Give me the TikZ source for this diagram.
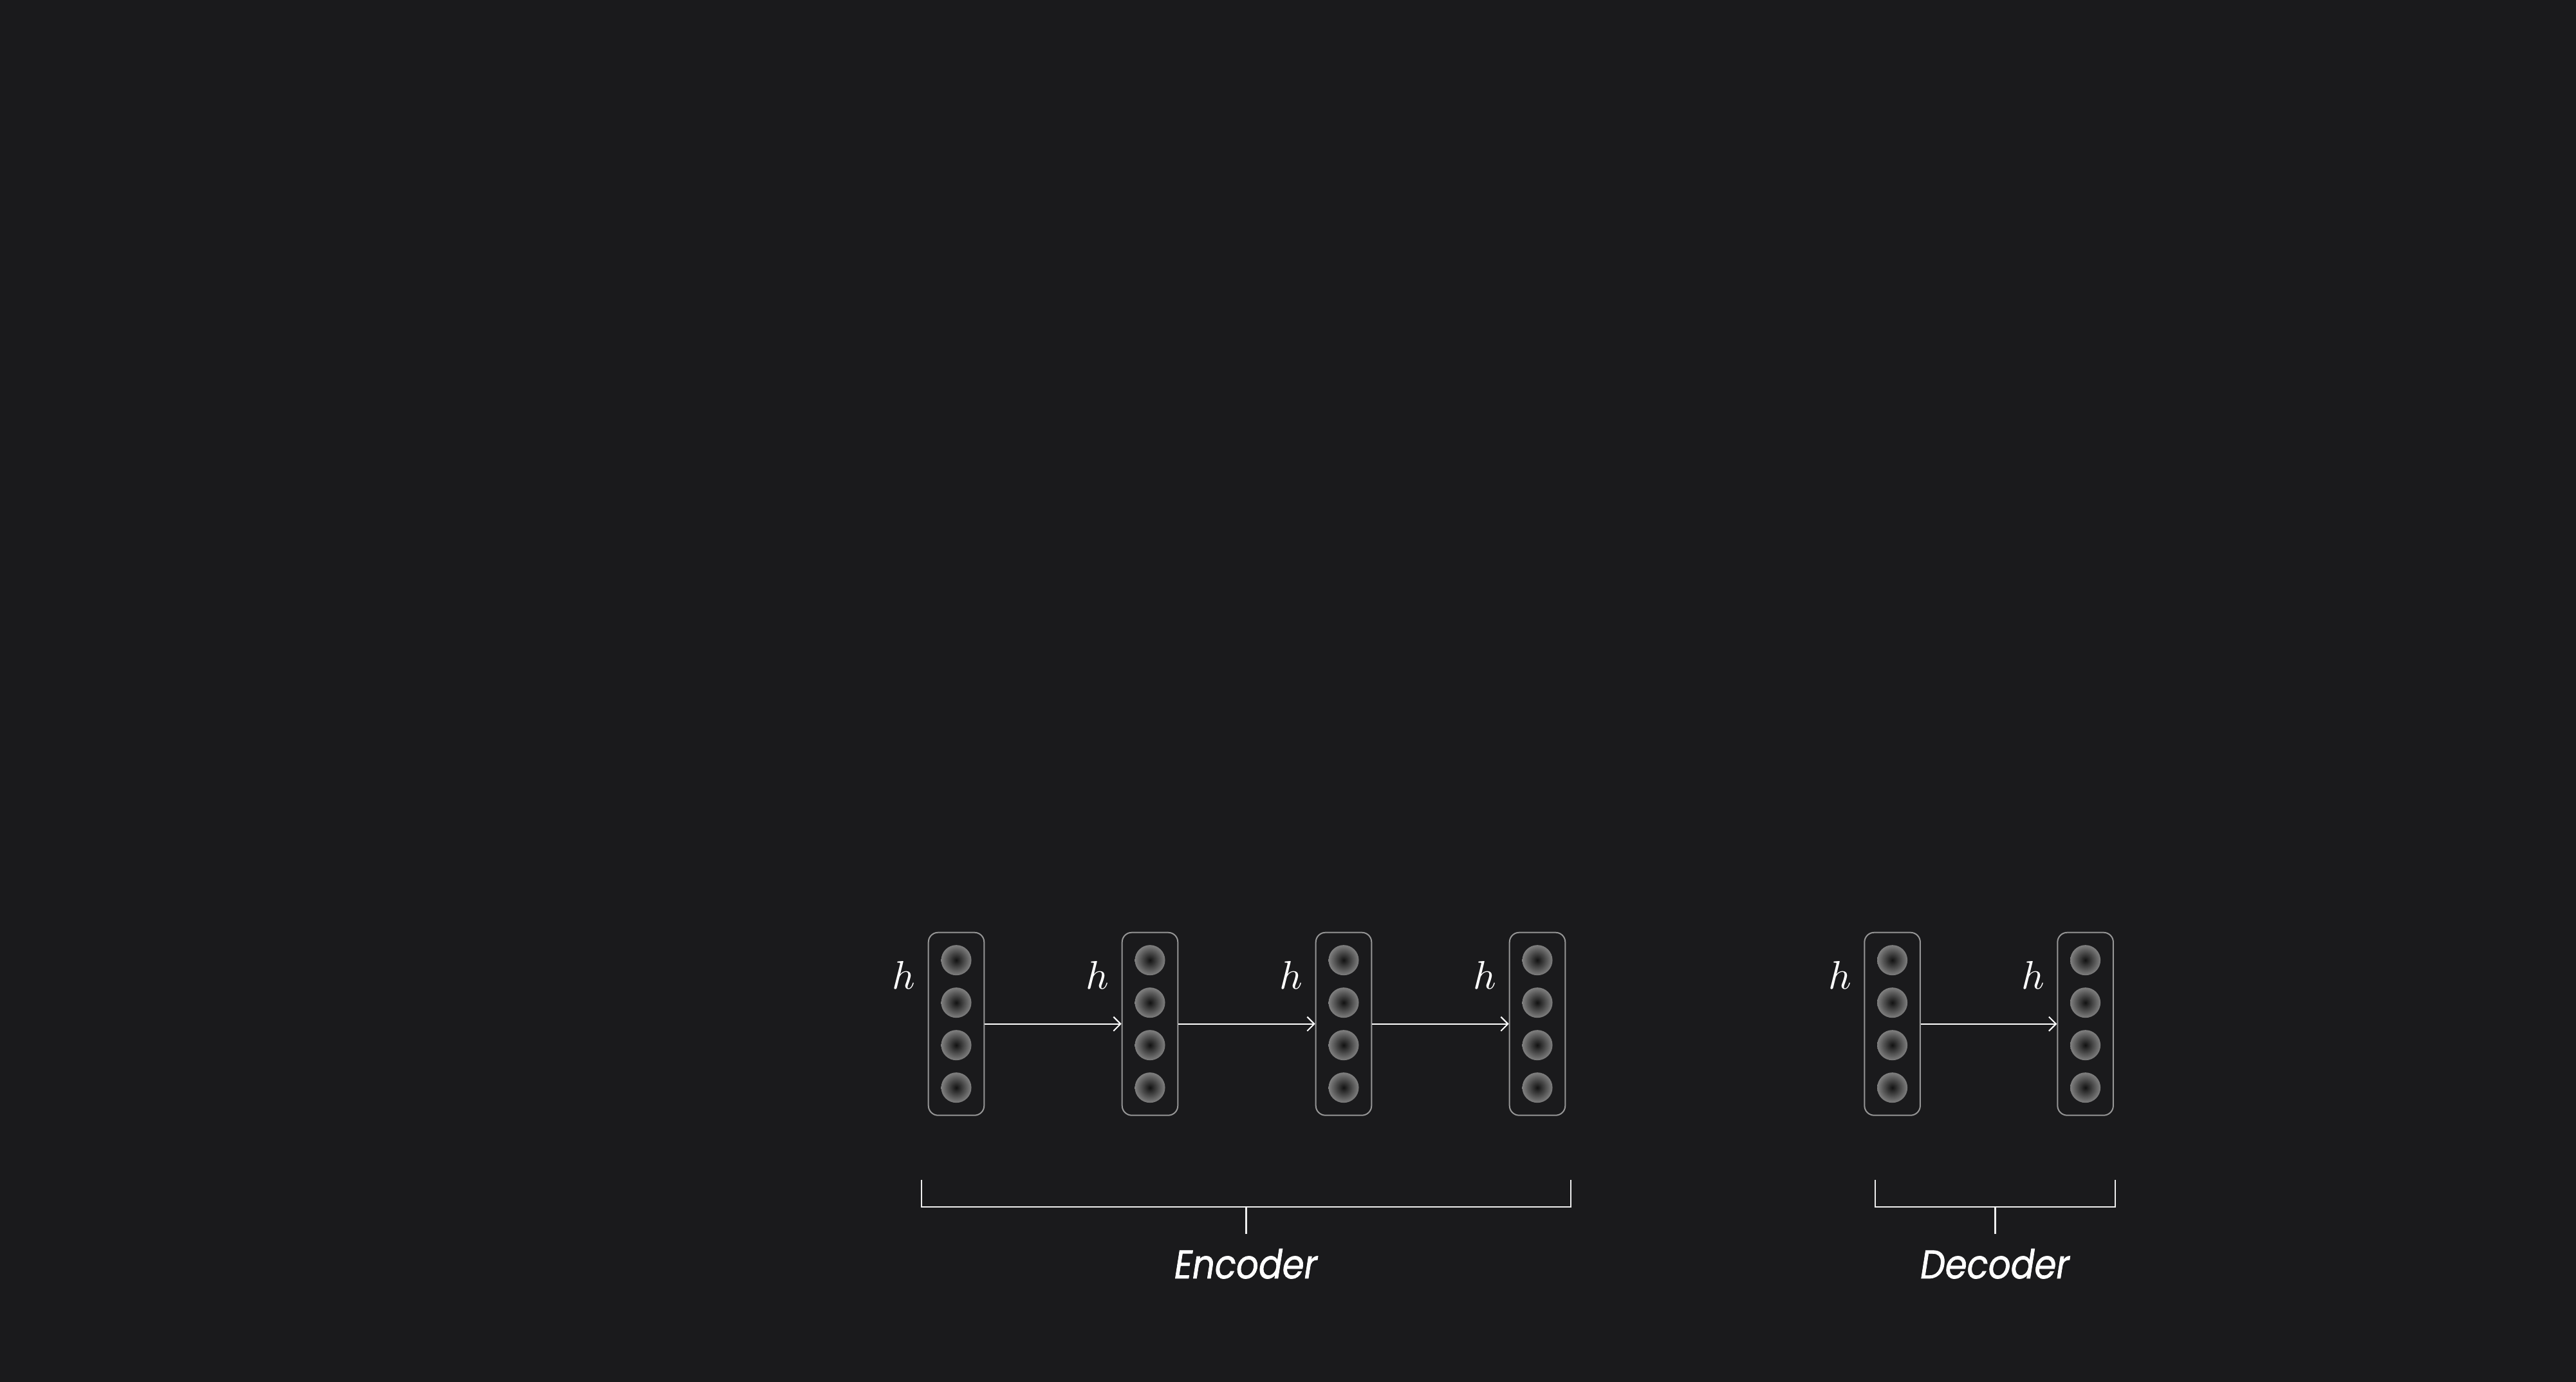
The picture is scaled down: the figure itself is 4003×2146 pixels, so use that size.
\documentclass[tikz,border=0pt]{standalone}
\usepackage{fontspec}
\newfontfamily\labfont{Poppins}[ItalicFeatures={FakeBold=1.2}]
\usetikzlibrary{arrows.meta,calc}
\definecolor{bgc}{RGB}{26,26,28}
\definecolor{boxc}{RGB}{150,150,150}
\definecolor{ballin}{RGB}{18,18,18}
\definecolor{ballout}{RGB}{128,128,128}
\definecolor{linec}{RGB}{238,238,238}
\tikzset{
  vecbox/.style={draw=boxc, line width=2pt, rounded corners=15pt, minimum width=86.6pt, minimum height=284pt, inner sep=0pt},
  ball/.style={circle, minimum size=47pt, inner sep=0pt, shading=radial, inner color=ballin, outer color=ballout},
  hlab/.style={text=white, anchor=base, inner sep=0pt},
  arr/.style={draw=white, line width=2pt, -{Straight Barb[length=11pt,width=22pt,line width=2pt]}},
  brk/.style={draw=linec, line width=2.5pt},
  partlab/.style={text=white, anchor=base, font=\labfont\itshape\fontsize{62}{70}\selectfont, inner sep=0pt}
}
\begin{document}
\begin{tikzpicture}[x=1pt,y=1pt]
\useasboundingbox (0,0) rectangle (4003,2146);
\fill[bgc] (-10,-10) rectangle (4013,2156);
% boxes
\foreach \n/\cx in {b1/1486, b2/1787, b3/2088, b4/2389, d1/2940.6, d2/3240.6}{
  \node[vecbox] (\n) at (\cx,555.3) {};
  \foreach \k/\dy in {1/99, 2/33, 3/-33, 4/-99}{
    \node[ball] (\n c\k) at (\cx,555.3+\dy) {};
  }
  \node[hlab] (\n h) at ($(\n.north west)+(-37,-89.3)$) {\scalebox{6.2}{$h$}};
}
% arrows
\draw[arr] (b1.east) -- (b2.west);
\draw[arr] (b2.east) -- (b3.west);
\draw[arr] (b3.east) -- (b4.west);
\draw[arr] (d1.east) -- (d2.west);
% encoder bracket
\coordinate (eL) at (1432,313);
\coordinate (eR) at (2441,313);
\coordinate (eM) at (1936.5,271);
\coordinate (eB) at (1936.5,229);
\draw[brk] (eL) |- (eR |- eM) -- (eR);
\draw[brk] (eM) -- (eB);
\node[partlab] (enc) at (1936,160) {\scalebox{0.88}[1]{Encoder}};
% decoder bracket
\coordinate (dL) at (2914,313);
\coordinate (dR) at (3287,313);
\coordinate (dM) at (3100.5,271);
\coordinate (dB) at (3100.5,229);
\draw[brk] (dL) |- (dR |- dM) -- (dR);
\draw[brk] (dM) -- (dB);
\node[partlab] (dec) at (3100,160) {\scalebox{0.88}[1]{Decoder}};
\end{tikzpicture}
\end{document}
